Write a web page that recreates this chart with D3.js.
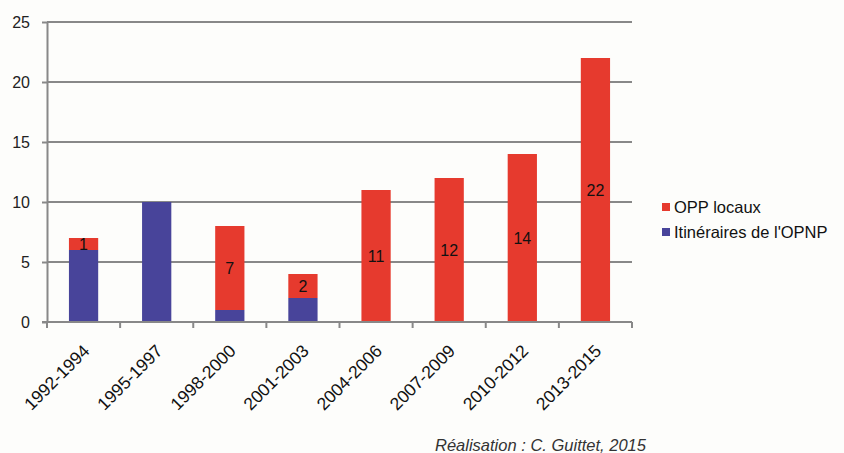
<!DOCTYPE html>
<html><head><meta charset="utf-8">
<script src="https://cdn.jsdelivr.net/npm/d3@7"></script>
<style>body{margin:0;background:#fdfdfb;}svg{display:block;font-family:"Liberation Sans",Arial,sans-serif;}</style>
</head><body>
<svg id="c" width="844" height="453"></svg>
<script>
const categories = ["1992-1994","1995-1997","1998-2000","2001-2003","2004-2006","2007-2009","2010-2012","2013-2015"];
const itineraires = [6, 10, 1, 2, 0, 0, 0, 0];
const oppLocaux = [1, 0, 7, 2, 11, 12, 14, 22];
const yTicks = [0, 5, 10, 15, 20, 25];
const seriesNames = ["Itinéraires de l'OPNP", "OPP locaux"];
const colors = {"Itinéraires de l'OPNP": "#48449a", "OPP locaux": "#e63a2e"};

const svg = d3.select("#c");
const x0 = 47, x1 = 632, yTop = 22, yBot = 322;
const x = d3.scaleBand().domain(categories).range([x0, x1]).paddingInner(0.6).paddingOuter(0.3);
const xEdge = d3.scaleLinear().domain([0, categories.length]).range([x0, x1]);
const y = d3.scaleLinear().domain([0, 25]).range([yBot, yTop]);

const data = categories.map((c, i) => ({cat: c, "Itinéraires de l'OPNP": itineraires[i], "OPP locaux": oppLocaux[i]}));
const stacked = d3.stack().keys(seriesNames)(data);

// gridlines
svg.append("g").selectAll("line").data(yTicks.filter(d => d > 0)).join("line")
  .attr("x1", x0).attr("x2", x1).attr("y1", d => y(d)).attr("y2", d => y(d))
  .attr("stroke", "#888").attr("stroke-width", 2);

// y axis
const ya = svg.append("g").attr("transform", `translate(${x0},0)`)
  .call(d3.axisLeft(y).tickValues(yTicks).tickSize(5).tickSizeOuter(0).tickPadding(12));
ya.select(".domain").attr("stroke", "#888").attr("stroke-width", 2);
ya.selectAll(".tick line").attr("stroke", "#888").attr("stroke-width", 2);
ya.selectAll("text").attr("font-size", 16).attr("fill", "#222").attr("font-family", "Liberation Sans, Arial, sans-serif");

// bars
svg.append("g").selectAll("g").data(stacked).join("g")
  .attr("fill", d => colors[d.key])
  .selectAll("rect").data(d => d.filter(s => s[1] > s[0])).join("rect")
  .attr("x", d => x(d.data.cat)).attr("width", x.bandwidth())
  .attr("y", d => y(d[1])).attr("height", d => y(d[0]) - y(d[1]));

// x axis
svg.append("line").attr("x1", x0 - 5).attr("x2", x1).attr("y1", yBot).attr("y2", yBot)
  .attr("stroke", "#888").attr("stroke-width", 2);
svg.append("g").selectAll("line").data(d3.range(categories.length + 1)).join("line")
  .attr("x1", d => xEdge(d)).attr("x2", d => xEdge(d)).attr("y1", yBot).attr("y2", yBot + 6)
  .attr("stroke", "#888").attr("stroke-width", 2);

// x labels
svg.append("g").selectAll("text").data(categories).join("text")
  .attr("transform", d => `translate(${x(d) + x.bandwidth() / 2 + 7},${yBot + 30}) rotate(-45)`)
  .attr("text-anchor", "end").attr("font-size", 17.5).attr("fill", "#111")
  .text(d => d);

// value labels for OPP locaux
const opp = stacked.find(s => s.key === "OPP locaux");
svg.append("g").selectAll("text").data(opp.filter(s => s[1] > s[0])).join("text")
  .attr("x", d => x(d.data.cat) + x.bandwidth() / 2)
  .attr("y", d => y((d[0] + d[1]) / 2))
  .attr("dy", "0.36em").attr("text-anchor", "middle").attr("font-size", 16).attr("fill", "#111")
  .text(d => d.data["OPP locaux"]);

// legend
const legendItems = ["OPP locaux", "Itinéraires de l'OPNP"];
const lg = svg.append("g").attr("transform", "translate(662,207)");
legendItems.forEach((k, i) => {
  const g = lg.append("g").attr("transform", `translate(0,${i * 25})`);
  g.append("rect").attr("x", 0).attr("y", -4).attr("width", 8).attr("height", 8).attr("fill", colors[k]);
  g.append("text").attr("x", 12).attr("y", 0).attr("dy", "0.36em").attr("font-size", 16.5).attr("fill", "#111").text(k);
});

// credit
svg.append("text").attr("x", 435).attr("y", 451).attr("font-size", 16.5).attr("font-style", "italic")
  .attr("fill", "#333").text("Réalisation : C. Guittet, 2015");
</script>
</body></html>
